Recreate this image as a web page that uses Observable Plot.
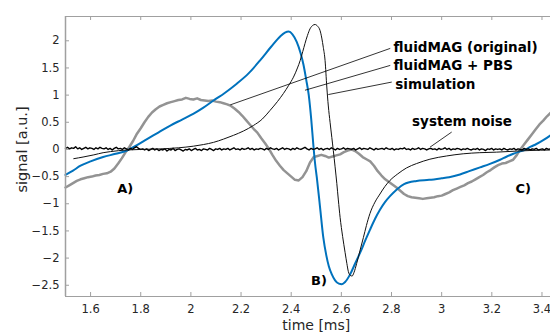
<!DOCTYPE html>
<html><head><meta charset="utf-8">
<script src="https://cdn.jsdelivr.net/npm/d3@7"></script>
<script src="https://cdn.jsdelivr.net/npm/@observablehq/plot@0.6"></script>
<style>html,body{margin:0;padding:0;background:#fff;overflow:hidden}</style>
</head><body><div id="chart"></div>
<script>
// ---- data (time in ms, signal in a.u.) ----
const xTicks = [1.6, 1.8, 2, 2.2, 2.4, 2.6, 2.8, 3, 3.2, 3.4];
const yTicks = [-2.5, -2, -1.5, -1, -0.5, 0, 0.5, 1, 1.5, 2];

const grayT = [1.500,1.515,1.530,1.545,1.560,1.575,1.590,1.605,1.620,1.635,1.650,1.665,1.680,1.695,1.710,1.725,1.740,1.755,1.770,1.785,1.800,1.815,1.830,1.845,1.860,1.875,1.890,1.905,1.920,1.935,1.950,1.965,1.980,1.995,2.010,2.025,2.040,2.055,2.070,2.085,2.100,2.115,2.130,2.145,2.160,2.175,2.190,2.205,2.220,2.235,2.250,2.265,2.280,2.295,2.310,2.325,2.340,2.355,2.370,2.385,2.400,2.415,2.430,2.445,2.460,2.475,2.490,2.505,2.520,2.535,2.550,2.565,2.580,2.595,2.610,2.625,2.640,2.655,2.670,2.685,2.700,2.715,2.730,2.745,2.760,2.775,2.790,2.805,2.820,2.835,2.850,2.865,2.880,2.895,2.910,2.925,2.940,2.955,2.970,2.985,3.000,3.015,3.030,3.045,3.060,3.075,3.090,3.105,3.120,3.135,3.150,3.165,3.180,3.195,3.210,3.225,3.240,3.255,3.270,3.285,3.300,3.315,3.330,3.345,3.360,3.375,3.390,3.405,3.420,3.434];
const grayV = [-0.70,-0.66,-0.62,-0.58,-0.55,-0.53,-0.51,-0.50,-0.48,-0.47,-0.45,-0.44,-0.41,-0.35,-0.26,-0.16,-0.05,0.05,0.16,0.29,0.39,0.50,0.60,0.68,0.74,0.79,0.82,0.85,0.87,0.89,0.91,0.92,0.95,0.93,0.92,0.94,0.91,0.90,0.89,0.90,0.88,0.87,0.85,0.83,0.80,0.75,0.69,0.62,0.54,0.46,0.38,0.31,0.21,0.12,0.02,-0.10,-0.21,-0.30,-0.38,-0.44,-0.50,-0.56,-0.57,-0.51,-0.40,-0.24,-0.14,-0.12,-0.10,-0.12,-0.15,-0.13,-0.11,-0.09,-0.05,-0.02,0.00,-0.03,-0.08,-0.14,-0.18,-0.22,-0.30,-0.40,-0.48,-0.55,-0.60,-0.65,-0.70,-0.76,-0.82,-0.86,-0.88,-0.89,-0.90,-0.91,-0.90,-0.89,-0.88,-0.86,-0.85,-0.82,-0.79,-0.75,-0.72,-0.69,-0.66,-0.62,-0.59,-0.55,-0.51,-0.47,-0.42,-0.38,-0.33,-0.29,-0.26,-0.25,-0.22,-0.19,-0.10,0.01,0.10,0.19,0.28,0.37,0.46,0.53,0.61,0.67];

const blueT = [1.500,1.530,1.560,1.600,1.650,1.700,1.745,1.785,1.825,1.870,1.918,1.965,2.011,2.050,2.090,2.135,2.183,2.230,2.276,2.320,2.356,2.375,2.390,2.405,2.422,2.437,2.449,2.460,2.470,2.480,2.488,2.495,2.502,2.515,2.528,2.540,2.550,2.562,2.575,2.590,2.602,2.615,2.635,2.655,2.675,2.695,2.714,2.734,2.754,2.774,2.794,2.820,2.850,2.900,2.950,3.000,3.030,3.073,3.110,3.153,3.190,3.233,3.260,3.286,3.310,3.330,3.355,3.378,3.405,3.434];
const blueV = [-0.47,-0.39,-0.30,-0.22,-0.14,-0.08,-0.02,0.08,0.19,0.31,0.44,0.55,0.66,0.77,0.90,1.04,1.21,1.40,1.64,1.89,2.08,2.15,2.17,2.12,1.98,1.78,1.56,1.28,1.00,0.55,0.10,-0.25,-0.51,-1.06,-1.62,-1.95,-2.15,-2.30,-2.41,-2.47,-2.48,-2.44,-2.30,-2.10,-1.90,-1.68,-1.48,-1.28,-1.11,-0.97,-0.86,-0.74,-0.64,-0.58,-0.56,-0.53,-0.51,-0.46,-0.40,-0.33,-0.27,-0.19,-0.13,-0.08,-0.04,-0.01,0.05,0.10,0.17,0.26];

const simT = [1.533,1.570,1.613,1.650,1.679,1.745,1.800,1.878,1.950,2.010,2.050,2.090,2.130,2.170,2.210,2.249,2.285,2.316,2.345,2.369,2.390,2.409,2.425,2.436,2.446,2.455,2.465,2.475,2.485,2.495,2.505,2.515,2.522,2.528,2.535,2.542,2.548,2.555,2.562,2.568,2.575,2.582,2.588,2.595,2.605,2.615,2.622,2.628,2.636,2.643,2.650,2.661,2.675,2.688,2.700,2.714,2.734,2.754,2.774,2.794,2.825,2.860,2.900,2.953,3.020,3.086,3.150,3.219,3.300,3.352,3.434];
const simV = [-0.17,-0.14,-0.10,-0.06,-0.04,-0.01,0.00,0.01,0.03,0.06,0.09,0.13,0.19,0.26,0.34,0.44,0.56,0.72,0.88,1.03,1.18,1.33,1.50,1.64,1.80,1.95,2.10,2.22,2.28,2.30,2.27,2.19,2.05,1.88,1.64,1.15,0.80,0.50,0.22,-0.02,-0.32,-0.63,-0.93,-1.25,-1.60,-1.90,-2.10,-2.25,-2.32,-2.33,-2.27,-2.10,-1.85,-1.62,-1.40,-1.18,-0.97,-0.82,-0.68,-0.57,-0.45,-0.34,-0.26,-0.18,-0.12,-0.08,-0.06,-0.05,-0.03,-0.02,-0.01];

const noiseStart = 1.5, noiseStep = 0.008092;
const noiseV = [
0.02,0.04,0.01,0.03,0.02,0.05,0.01,0.03,0.00,0.02,0.04,0.01,0.03,0.02,0.00,0.03,0.01,0.04,0.02,0.01,
0.03,0.00,0.02,-0.01,0.02,0.04,0.01,0.02,0.00,0.03,0.01,-0.01,0.02,0.00,0.03,0.05,0.02,0.00,0.01,-0.01,
0.01,-0.02,0.00,0.02,-0.01,0.01,-0.02,0.00,-0.01,0.01,-0.03,0.00,-0.01,0.02,-0.02,0.00,0.01,-0.01,-0.03,0.00,
-0.01,0.01,-0.02,0.00,0.02,-0.01,0.00,-0.02,0.01,0.00,-0.01,0.02,0.00,-0.02,0.01,0.00,0.02,-0.01,0.01,0.00,
0.02,-0.01,0.01,0.03,0.00,0.01,-0.01,0.02,0.00,0.01,0.03,0.00,0.02,-0.01,0.01,0.00,0.02,0.01,-0.01,0.02,
0.00,0.03,0.01,0.00,0.02,-0.01,0.01,0.03,0.00,0.02,0.01,-0.01,0.02,0.00,0.03,0.01,0.00,0.02,0.04,0.01,
-0.01,0.02,0.00,0.01,0.03,0.00,0.02,-0.01,0.01,0.02,0.00,0.03,0.01,-0.01,0.02,0.00,0.01,0.03,0.00,0.02,
0.01,0.00,0.02,-0.01,0.01,0.03,0.00,0.02,0.01,0.00,0.03,0.01,-0.01,0.02,0.00,0.01,0.02,0.00,0.03,0.01,
0.00,0.02,-0.01,0.01,0.00,0.02,0.01,0.03,0.00,0.01,-0.01,0.02,0.00,0.01,0.03,0.00,0.02,0.01,-0.01,0.01,
0.02,0.00,0.01,-0.01,0.02,0.00,0.01,0.03,0.00,0.02,-0.01,0.01,0.00,0.02,0.01,-0.01,0.01,0.00,0.02,0.00,
-0.01,0.01,0.00,0.02,-0.01,0.01,0.00,-0.02,0.01,0.00,0.02,-0.01,0.01,0.00,0.01,-0.01,0.02,0.00,-0.01,0.01,
0.00,0.02,-0.01,0.01,0.00,-0.01,0.02,0.00,0.01,-0.01,0.01,0.00,0.02,-0.01,0.00,0.01,-0.01,0.02,0.00,0.01];

const seriesLabels = ["fluidMAG (original)", "fluidMAG + PBS", "simulation", "system noise"];
const labelT = [2.808, 2.808, 2.815, 2.882];
const labelV = [1.87, 1.55, 1.19, 0.51];
const leaderT1 = [2.795, 2.795, 2.801, 3.040];
const leaderV1 = [1.86, 1.547, 1.24, 0.32];
const leaderT2 = [2.157, 2.455, 2.548, 2.953];
const leaderV2 = [0.82, 1.09, 1.01, 0.04];

const markLabels = ["A)", "B)", "C)"];
const markT = [1.738, 2.511, 3.325];
const markV = [-0.72, -2.41, -0.72];

// ---- layout ----
const W = 550, H = 334, mL = 65, mR = 0, mT = 16, mB = 38;
const xDomain = [1.5, 3.434], yDomain = [-2.707, 2.447];
const frameW = W - mL - mR, frameH = H - mT - mB, tickLen = 4;
const axisColor = "#a0a0a0", textColor = "#262626";
const fmt = d => (d < 0 ? "\u2212" : "") + Math.abs(d);

const zipTV = (T, V) => T.map((t, i) => ({t, v: V[i]}));
const gray = zipTV(grayT, grayV);
const blue = zipTV(blueT, blueV);
const sim = zipTV(simT, simV);
const noise = noiseV.map((v, i) => ({t: noiseStart + i * noiseStep, v}));
const labels = seriesLabels.map((s, i) => ({s, t: labelT[i], v: labelV[i]}));
const leaders = seriesLabels.map((s, i) => ({t1: leaderT1[i], v1: leaderV1[i], t2: leaderT2[i], v2: leaderV2[i]}));
const marks = markLabels.map((s, i) => ({s, t: markT[i], v: markV[i]}));

const chart = Plot.plot({
  width: W, height: H,
  marginLeft: mL, marginRight: mR, marginTop: mT, marginBottom: mB,
  x: {domain: xDomain},
  y: {domain: yDomain},
  style: {fontFamily: "DejaVu Sans", background: "#fff", overflow: "visible"},
  marks: [
    Plot.axisX({ticks: xTicks, tickSize: 0, tickPadding: 8, tickFormat: fmt, fontSize: 11.5, color: textColor, label: null}),
    Plot.axisY({ticks: yTicks, tickSize: 0, tickPadding: 6, tickFormat: fmt, fontSize: 11.5, color: textColor, label: null}),
    Plot.line(gray, {x: "t", y: "v", stroke: "#939393", strokeWidth: 2.5}),
    Plot.line(blue, {x: "t", y: "v", stroke: "#0072BD", strokeWidth: 2, curve: "monotone-x"}),
    Plot.line(noise, {x: "t", y: "v", stroke: "#000", strokeWidth: 1.4}),
    Plot.line(sim, {x: "t", y: "v", stroke: "#111", strokeWidth: 1, curve: "monotone-x"}),
    Plot.link(leaders, {x1: "t1", y1: "v1", x2: "t2", y2: "v2", stroke: "#000", strokeWidth: 0.8}),
    Plot.text(labels, {x: "t", y: "v", text: "s", textAnchor: "start", fontSize: 13.5, fontWeight: "bold", fill: "#000"}),
    Plot.text(marks, {x: "t", y: "v", text: "s", fontSize: 13, fontWeight: "bold", fill: "#000"}),
    Plot.ruleY([yDomain[1]], {stroke: axisColor}),
    Plot.ruleY([yDomain[0]], {stroke: axisColor}),
    Plot.ruleX([xDomain[0]], {stroke: axisColor, strokeWidth: 1.5}),
    Plot.ruleX(xTicks, {x: d => d, insetTop: frameH - tickLen, stroke: axisColor}),
    Plot.ruleX(xTicks, {x: d => d, insetBottom: frameH - tickLen, stroke: axisColor}),
    Plot.ruleY(yTicks, {y: d => d, insetRight: frameW - tickLen, stroke: axisColor}),
    Plot.text(["time [ms]"], {x: 2.5, y: yDomain[0], dy: 29, fontSize: 14, fill: textColor}),
    Plot.text(["signal [a.u.]"], {x: xDomain[0], y: 0, dx: -43, rotate: -90, fontSize: 14.5, fill: textColor})
  ]
});
document.getElementById("chart").appendChild(chart);
</script>
</body></html>
